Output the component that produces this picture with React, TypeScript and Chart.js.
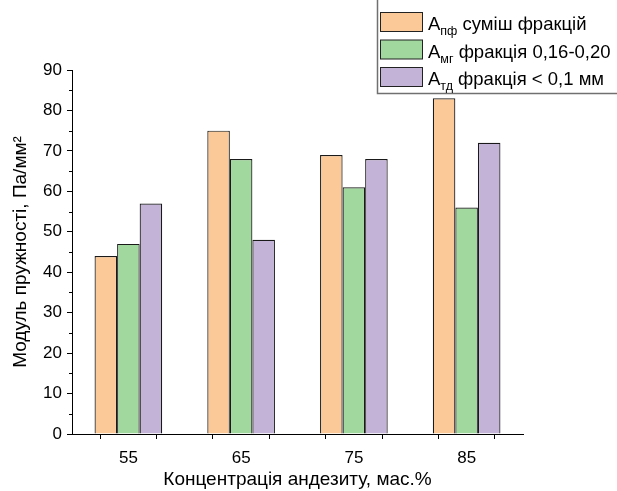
import React, { useEffect, useRef } from "react";
import { Chart, registerables } from "chart.js";

Chart.register(...registerables);

const concentrations = [55, 65, 75, 85];
const seriesMain = ["А", "А", "А"];
const seriesSub = ["пф", "мг", "тд"];
const seriesRest = [" суміш фракцій", " фракція 0,16-0,20", " фракція < 0,1 мм"];
const valuesPf = [44, 75, 69, 83];
const valuesMg = [47, 68, 61, 56];
const valuesTd = [57, 48, 68, 72];
const fillColors = ["#FBC997", "#A0D89E", "#C3B3D7"];
const xTitle = "Концентрація андезиту, мас.%";
const yTitle = "Модуль пружності, Па/мм²";

const FONT = "'Liberation Sans', Arial, sans-serif";

const legendPlugin = {
  id: "customLegend",
  afterDraw(chart: any) {
    const ctx = chart.ctx as CanvasRenderingContext2D;
    ctx.save();
    ctx.strokeStyle = "#707070";
    ctx.lineWidth = 1.5;
    ctx.strokeRect(377.5, -5, 400, 98.5);
    const rowTops = [12, 39.5, 67];
    for (let i = 0; i < 3; i++) {
      const top = rowTops[i];
      ctx.fillStyle = fillColors[i];
      ctx.fillRect(380.5, top + 0.5, 42, 19);
      ctx.strokeStyle = "#222";
      ctx.lineWidth = 1;
      ctx.strokeRect(380.5, top + 0.5, 42, 19);
      ctx.fillStyle = "#000";
      ctx.textBaseline = "alphabetic";
      ctx.textAlign = "left";
      const baseline = top + 18;
      let x = 428;
      ctx.font = `18.5px ${FONT}`;
      ctx.fillText(seriesMain[i], x, baseline);
      x += ctx.measureText(seriesMain[i]).width;
      ctx.font = `12.5px ${FONT}`;
      ctx.fillText(seriesSub[i], x, baseline + 5);
      x += ctx.measureText(seriesSub[i]).width;
      ctx.font = `18.5px ${FONT}`;
      ctx.fillText(seriesRest[i], x, baseline);
    }
    ctx.restore();
  },
};

const minorTickPlugin = {
  id: "minorTicks",
  afterDraw(chart: any) {
    const y = chart.scales.y;
    const ctx = chart.ctx as CanvasRenderingContext2D;
    ctx.save();
    ctx.strokeStyle = "#000";
    ctx.lineWidth = 1;
    for (let v = 5; v < 90; v += 10) {
      const py = Math.round(y.getPixelForValue(v)) + 0.5;
      ctx.beginPath();
      ctx.moveTo(y.right - 3, py);
      ctx.lineTo(y.right, py);
      ctx.stroke();
    }
    ctx.restore();
  },
};

export default function App() {
  const ref = useRef<HTMLCanvasElement>(null);
  useEffect(() => {
    if (!ref.current) return;
    const mk = (vals: number[]) => concentrations.map((c, i) => ({ x: c, y: vals[i] }));
    const all = [valuesPf, valuesMg, valuesTd];
    const chart = new Chart(ref.current, {
      type: "bar",
      data: {
        datasets: all.map((vals, i) => ({
          label: seriesMain[i] + seriesSub[i] + seriesRest[i],
          data: mk(vals),
          backgroundColor: fillColors[i],
          borderColor: "#1a1a1a",
          borderWidth: 1.2,
          categoryPercentage: 1.2,
          barPercentage: 1,
        })),
      },
      options: {
        animation: false,
        responsive: true,
        maintainAspectRatio: false,
        layout: { padding: { top: 70, right: 94, left: 0, bottom: 0 } },
        plugins: { legend: { display: false }, tooltip: { enabled: false } },
        scales: {
          x: {
            type: "linear",
            min: 50,
            max: 90,
            offset: false,
            afterFit: (s: any) => {
              s.height = 57;
            },
            ticks: {
              stepSize: 5,
              autoSkip: false,
              maxRotation: 0,
              padding: 9,
              color: "#000",
              font: { family: FONT, size: 17 },
              callback: (v: any) => (Number(v) % 10 === 5 ? String(v) : ""),
            },
            grid: { drawOnChartArea: false, drawTicks: true, tickLength: 5, color: "#000", tickColor: "#000" },
            border: { display: true, color: "#000", width: 1 },
            title: {
              display: true,
              text: xTitle,
              color: "#000",
              font: { family: FONT, size: 19 },
              padding: { top: 0, bottom: 0 },
            },
          },
          y: {
            min: 0,
            max: 90,
            afterFit: (s: any) => {
              s.width = 72;
            },
            ticks: {
              stepSize: 10,
              padding: 5,
              color: "#000",
              font: { family: FONT, size: 17 },
            },
            grid: { drawOnChartArea: false, drawTicks: true, tickLength: 5, color: "#000", tickColor: "#000" },
            border: { display: true, color: "#000", width: 1 },
            title: {
              display: true,
              text: yTitle,
              color: "#000",
              font: { family: FONT, size: 19 },
              padding: { top: 9, bottom: 0 },
            },
          },
        },
      },
      plugins: [legendPlugin, minorTickPlugin],
    } as any);
    return () => chart.destroy();
  }, []);
  return (
    <div style={{ position: "absolute", left: 0, top: 0, width: 617, height: 491, background: "#fff" }}>
      <canvas ref={ref} />
    </div>
  );
}
